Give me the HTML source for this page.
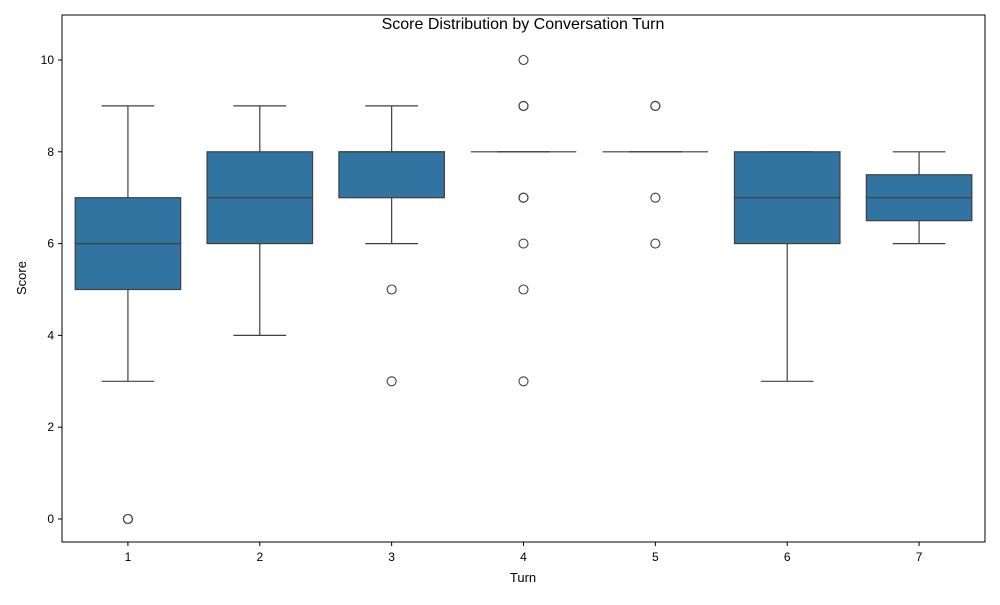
<!DOCTYPE html>
<html><head><meta charset="utf-8"><style>
body{margin:0;background:#fff;}
svg{font-family:"Liberation Sans",sans-serif;}
</style></head><body>
<svg id="chart" width="1000" height="600">
<rect x="0" y="0" width="1000" height="600" fill="#fff"/>
<text x="523" y="29" text-anchor="middle" font-size="16" fill="#000">Score Distribution by Conversation Turn</text>
<g id="plot"></g>
<text x="523" y="582" text-anchor="middle" font-size="13">Turn</text>
<text transform="translate(26,278) rotate(-90)" text-anchor="middle" font-size="13">Score</text>
</svg>
<script>
const categories=["1","2","3","4","5","6","7"];
const whiskerLow=[3,4,6,8,8,3,6];
const q1=[5,6,7,8,8,6,6.5];
const median=[6,7,8,8,8,7,7];
const q3=[7,8,8,8,8,8,7.5];
const whiskerHigh=[9,9,9,8,8,8,8];
const outliers=[[0,0],[],[5,3],[10,9,9,7,7,6,5,3],[9,9,7,6],[],[]];
const yTicks=[0,2,4,6,8,10];

const L=62,R=985,T=15,B=542;
const ns="http://www.w3.org/2000/svg";
const g=document.getElementById('plot');
function y(v){return 519-(v)*45.9;}
function x(i){return L+(R-L)/categories.length*(i+0.5);}
const bw=(R-L)/categories.length*0.8;
function mk(t,a,p){const e=document.createElementNS(ns,t);for(const k in a)e.setAttribute(k,a[k]);(p||g).appendChild(e);return e;}
const line="#3f3f3f";
yTicks.forEach(v=>{
 mk('line',{x1:L-4,x2:L,y1:y(v),y2:y(v),stroke:'#000'});
 const t=mk('text',{x:L-8,y:y(v)+4,'text-anchor':'end','font-size':12});
 t.textContent=v;
 
 
});
categories.forEach((c,i)=>{
 const cx=x(i);
 mk('line',{x1:cx,x2:cx,y1:B,y2:B+4,stroke:'#000'});
 const t=mk('text',{x:cx,y:B+19,'text-anchor':'middle','font-size':12});
 t.textContent=c;
 
 
 const grp=mk('g',{});
 
 
 mk('line',{x1:cx,x2:cx,y1:y(whiskerLow[i]),y2:y(q1[i]),stroke:line,'stroke-width':1.2},grp);
 mk('line',{x1:cx,x2:cx,y1:y(q3[i]),y2:y(whiskerHigh[i]),stroke:line,'stroke-width':1.2},grp);
 mk('line',{x1:cx-bw/4,x2:cx+bw/4,y1:y(whiskerLow[i]),y2:y(whiskerLow[i]),stroke:line,'stroke-width':1.2},grp);
 mk('line',{x1:cx-bw/4,x2:cx+bw/4,y1:y(whiskerHigh[i]),y2:y(whiskerHigh[i]),stroke:line,'stroke-width':1.2},grp);
 mk('rect',{x:cx-bw/2,y:y(q3[i]),width:bw,height:Math.max(0,y(q1[i])-y(q3[i])),fill:'#3274a1',stroke:line,'stroke-width':1.2},grp);
 mk('line',{x1:cx-bw/2,x2:cx+bw/2,y1:y(median[i]),y2:y(median[i]),stroke:line,'stroke-width':1.2},grp);
 outliers[i].forEach(v=>{
  const o=mk('circle',{cx:cx,cy:y(v),r:4.5,fill:'none',stroke:line,'stroke-width':1.1},grp);
  
  
 });
});
mk('rect',{x:L,y:T,width:R-L,height:B-T,fill:'none',stroke:'#000','stroke-width':1});
</script>
</body></html>
